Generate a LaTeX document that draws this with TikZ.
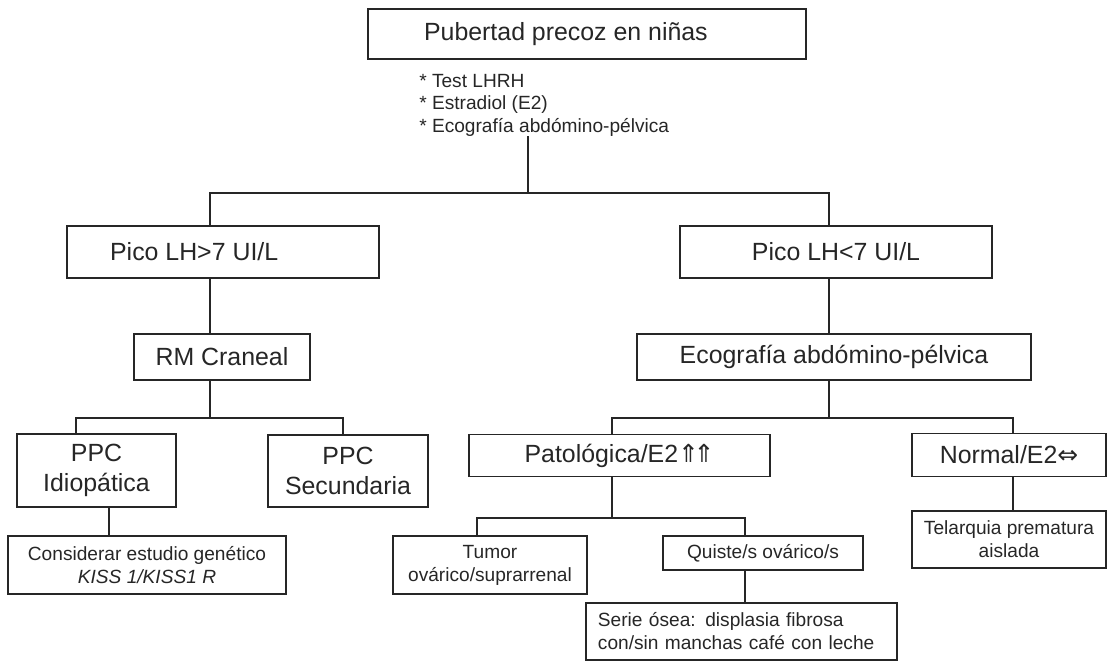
\documentclass[tikz,border=0pt]{standalone}
\usepackage{fontspec}
\setmainfont{Liberation Sans}
\newfontfamily\arrowfont{DejaVu Sans}
\usetikzlibrary{positioning}

\begin{document}
\begin{tikzpicture}[
    x=0.025cm,
    y=-0.025cm,
    box/.style={
        draw=black!85,
        line width=1pt,
        rectangle,
        inner sep=2pt,
        align=center,
        text=black!85,
        font=\fontsize{17.7}{21.3}\selectfont,
    },
    smallbox/.style={
        box,
        font=\fontsize{13.6}{16.3}\selectfont,
    },
    link/.style={
        draw=black!85,
        line width=1pt,
        line cap=rect,
    }
]
    \useasboundingbox (0,0) rectangle (1108,662);

    % Start
    \node[box, minimum width=10.95cm, minimum height=1.25cm] (start) at (587,34) {Pubertad precoz en niñas\hspace*{30pt}};
    \node[align=left, anchor=north west, inner sep=0pt, text=black!85,
          font=\fontsize{13.6}{16}\selectfont] (tests) at (419,74)
          {* Test LHRH\\* Estradiol (E2)\\* Ecografía abdómino-pélvica};

    % LH peak
    \node[box, minimum width=7.8cm, minimum height=1.3cm] (lhhigh) at (223,252) {Pico LH>7 UI/L\hspace*{41pt}};
    \node[box, minimum width=7.8cm, minimum height=1.3cm] (lhlow) at (836,252) {Pico LH<7 UI/L};

    % Second tests
    \node[box, minimum width=4.4cm, minimum height=1.15cm] (rm) at (222,357) {RM Craneal};
    \node[box, minimum width=9.85cm, minimum height=1.15cm] (eco) at (834,357) {Ecografía abdómino-pélvica};

    % Results
    \node[box, minimum width=3.975cm, minimum height=1.825cm] (idio) at (96.5,470.5) {PPC\\Idiopática};
    \node[box, minimum width=4cm, minimum height=1.8cm] (secu) at (348,471) {PPC\\Secundaria};
    \node[box, minimum width=7.525cm, minimum height=1.05cm] (pato) at (619.5,455.5) {Patológica/E2{\arrowfont ⇑\kern-0.22em⇑}};
    \node[box, minimum width=4.85cm, minimum height=1.075cm] (normal) at (1009,455) {Normal/E2{\arrowfont ⇔}};

    % Final boxes
    \node[smallbox, minimum width=6.95cm, minimum height=1.45cm] (gen) at (147,565) {Considerar estudio genético\\\textit{KISS 1/KISS1 R}};
    \node[smallbox, minimum width=4.85cm, minimum height=1.45cm] (tumor) at (490,565) {Tumor\\ovárico/suprarrenal};
    \node[smallbox, minimum width=5cm, minimum height=0.85cm] (quiste) at (763,553) {Quiste/s ovárico/s};
    \node[smallbox, align=left, inner xsep=0.3cm, text width=7.175cm, minimum height=1.425cm] (serie) at (741.5,631.5)
         {Serie ósea: displasia fibrosa\\con/sin manchas café con leche};
    \node[smallbox, minimum width=4.85cm, minimum height=1.425cm] (telar) at (1009,539.5) {Telarquia prematura\\aislada};

    % Junctions
    \coordinate (jtop) at (528,193);
    \coordinate (jleft) at (210,193);
    \coordinate (jright) at (829,193);
    \coordinate (jrm) at (210,418);
    \coordinate (jidio) at (76,418);
    \coordinate (jsecu) at (343,418);
    \coordinate (jgen) at (109,536);
    \coordinate (jeco) at (829,418);
    \coordinate (jpato) at (612,418);
    \coordinate (jnormal) at (1013,418);
    \coordinate (jsplit) at (612,518);
    \coordinate (jtumor) at (477,518);
    \coordinate (jquiste) at (745,518);

    % Connectors
    \draw[link] (tests.south -| jtop) -- (jtop);
    \draw[link] (jleft) -- (jright);
    \draw[link] (jleft) -- (lhhigh.north -| jleft);
    \draw[link] (jright) -- (lhlow.north -| jright);

    \draw[link] (lhhigh.south -| jleft) -- (rm.north -| jleft);
    \draw[link] (rm.south -| jrm) -- (jrm);
    \draw[link] (jidio) -- (jsecu);
    \draw[link] (jidio) -- (idio.north -| jidio);
    \draw[link] (jsecu) -- (secu.north -| jsecu);
    \draw[link] (idio.south -| jgen) -- (gen.north -| jgen);

    \draw[link] (lhlow.south -| jright) -- (eco.north -| jright);
    \draw[link] (eco.south -| jeco) -- (jeco);
    \draw[link] (jpato) -- (jnormal);
    \draw[link] (jpato) -- (pato.north -| jpato);
    \draw[link] (jnormal) -- (normal.north -| jnormal);
    \draw[link] (normal.south -| jnormal) -- (telar.north -| jnormal);

    \draw[link] (pato.south -| jsplit) -- (jsplit);
    \draw[link] (jtumor) -- (jquiste);
    \draw[link] (jtumor) -- (tumor.north -| jtumor);
    \draw[link] (jquiste) -- (quiste.north -| jquiste);
    \draw[link] (quiste.south -| jquiste) -- (serie.north -| jquiste);
\end{tikzpicture}
\end{document}
